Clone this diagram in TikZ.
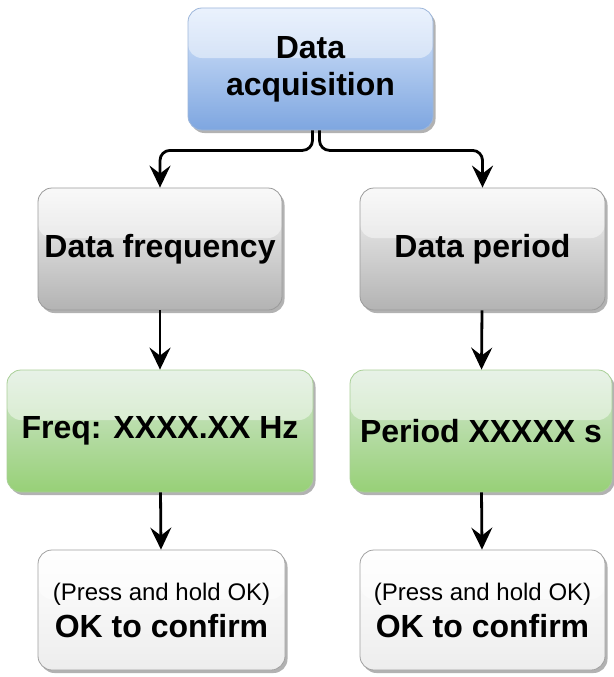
\documentclass[tikz,border=0pt]{standalone}
\usepackage{fontspec}
\setmainfont{Liberation Sans}
\usetikzlibrary{arrows.meta}
\usetikzlibrary{shadows}
\usetikzlibrary{calc}
\definecolor{acqtop}{HTML}{DAE8FC}
\definecolor{acqbot}{HTML}{7EA6E0}
\definecolor{acqline}{HTML}{9DB6DA}
\definecolor{menutop}{HTML}{F5F5F5}
\definecolor{menubot}{HTML}{B3B3B3}
\definecolor{menuline}{HTML}{9A9A9A}
\definecolor{valtop}{HTML}{D5E8D4}
\definecolor{valbot}{HTML}{97D077}
\definecolor{valline}{HTML}{A9CF97}
\definecolor{oktop}{HTML}{FFFFFF}
\definecolor{okbot}{HTML}{EDEDED}
\definecolor{okline}{HTML}{A0A0A0}
\tikzset{
	basebox/.style={
		rounded corners=14pt,
		minimum height=122pt,
		inner sep=0pt,
		align=center,
		line width=0.8pt,
		font=\fontsize{32}{37}\selectfont\bfseries,
		drop shadow={shadow xshift=2.5pt, shadow yshift=-3pt, opacity=0.3, fill=black},
		path picture={\fill[white, opacity=0.45] (path picture bounding box.north west) rectangle ($(path picture bounding box.east)!0.18!(path picture bounding box.north east)$);},
	},
	acqbox/.style={basebox, draw=acqline, top color=acqtop, bottom color=acqbot},
	menubox/.style={basebox, draw=menuline, top color=menutop, bottom color=menubot},
	valuebox/.style={basebox, draw=valline, top color=valtop, bottom color=valbot},
	okbox/.style={basebox, minimum height=120pt, draw=okline, top color=oktop, bottom color=okbot},
	conn/.style={-{Stealth[length=22pt, width=21pt, inset=8pt]}, line width=2.8pt, black, rounded corners=10pt},
}
\begin{document}
\begin{tikzpicture}[x=1pt, y=-1pt]
		\useasboundingbox (0,0) rectangle (613,677);
		\node[acqbox, minimum width=245pt] (acq) at (310.5,69) {Data\\acquisition};
		\node[menubox, minimum width=244pt] (freq) at (160,249) {Data frequency};
		\node[menubox, minimum width=245pt] (period) at (482.5,249) {Data period};
		\node[valuebox, minimum width=306pt] (freqval) at (160,431) {Freq: XXXX.XX Hz};
		\node[valuebox, minimum width=262pt] (periodval) at (481,431) {Period XXXXX s};
		\node[okbox, minimum width=247pt] (freqok) at (161.5,610) {{\mdseries\fontsize{24}{29}\selectfont (Press and hold OK)}\\OK to confirm};
		\node[okbox, minimum width=245pt] (periodok) at (482.5,610) {{\mdseries\fontsize{24}{29}\selectfont (Press and hold OK)}\\OK to confirm};
		\draw[conn] ([xshift=2pt]acq.south) -- ++(0,20) -| (freq.north);
		\draw[conn] ([xshift=9pt]acq.south) -- ++(0,20) -| (period.north);
		\draw[conn] (freq) -- (freqval);
		\draw[conn] (period) -- (periodval);
		\draw[conn] (freqval) -- (freqok);
		\draw[conn] (periodval) -- (periodok);
	\end{tikzpicture}
\end{document}
